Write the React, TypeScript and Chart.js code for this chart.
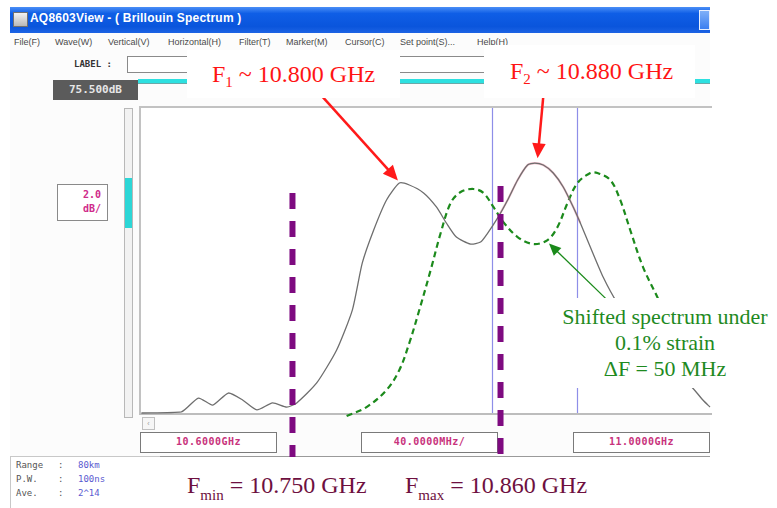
import React, { useEffect, useRef } from "react";
import { Chart, registerables } from "chart.js";

Chart.register(...registerables);

// Measured Brillouin spectrum (frequency in GHz, level in dB)
const FREQ_GHZ = [
  10.601, 10.629, 10.641, 10.651, 10.662, 10.672, 10.682, 10.693, 10.703, 10.71,
  10.724, 10.738, 10.749, 10.756, 10.764, 10.773, 10.782, 10.789, 10.799, 10.808,
  10.815, 10.822, 10.832, 10.839, 10.844, 10.851, 10.858, 10.865, 10.872, 10.877,
  10.883, 10.89, 10.897, 10.904, 10.909, 10.916, 10.925, 10.935, 10.951, 10.968,
  10.986, 10.995, 11.0,
];
const LEVEL_DB = [
  55.5, 55.57, 56.48, 56.02, 56.81, 56.35, 55.7, 56.16, 55.89, 56.16,
  57.47, 59.63, 62.25, 65.34, 67.5, 69.47, 70.58, 70.45, 69.93, 69.01,
  67.96, 67.04, 66.58, 66.71, 67.3, 68.29, 69.47, 70.78, 71.76, 71.89,
  71.76, 71.24, 70.32, 69.01, 67.96, 66.39, 64.42, 62.71, 60.61, 58.84,
  57.34, 56.35, 55.89,
];

// Shifted spectrum under 0.1% strain
const SHIFT_FREQ_GHZ = [
  10.745, 10.759, 10.773, 10.782, 10.789, 10.796, 10.804, 10.811, 10.818, 10.825,
  10.834, 10.841, 10.848, 10.855, 10.865, 10.876, 10.886, 10.893, 10.9, 10.907,
  10.916, 10.921, 10.93, 10.937, 10.944, 10.953, 10.963, 10.972, 10.982,
];
const SHIFT_LEVEL_DB = [
  55.3, 55.89, 57.01, 58.32, 60.09, 62.25, 64.88, 67.3, 69.27, 69.99,
  70.19, 69.93, 69.01, 68.02, 67.04, 66.58, 66.84, 67.7, 69.27, 70.58,
  71.24, 71.24, 70.78, 69.47, 67.5, 65.07, 63.11, 61.27, 59.3,
];

// Marker trace highlight around F2
const MARK_FREQ_GHZ = [10.851, 10.858, 10.865, 10.872, 10.877, 10.883, 10.89, 10.897, 10.904, 10.909];
const MARK_LEVEL_DB = [68.29, 69.47, 70.78, 71.76, 71.89, 71.76, 71.24, 70.32, 69.01, 67.96];

const X_MIN = 10.6;
const X_MAX = 11.0;
const Y_MIN = 55.5;
const Y_MAX = 75.5;

const CURSOR_FREQ_GHZ = [10.847, 10.907];
const LIMIT_FREQ_GHZ = [10.707, 10.853];
const LIMIT_TOP_DB = [69.93, 70.39];
const LIMIT_BOTTOM_DB = 52.61;

// arrows: [fromF, fromDb, toF, toDb]
const ARROW_F1 = [10.7275, 76.3, 10.781, 70.75];
const ARROW_F2 = [10.883, 76.25, 10.879, 72.2];
const ARROW_SHIFT = [10.928, 62.9, 10.887, 66.62];

const TITLE = "AQ8603View - ( Brillouin Spectrum )";
const MENU_ITEMS = ["File(F)", "Wave(W)", "Vertical(V)", "Horizontal(H)", "Filter(T)", "Marker(M)", "Cursor(C)", "Set point(S)...", "Help(H)"];
const MENU_X = [14, 55, 108, 168, 239, 286, 345, 400, 477];
const AXIS_LABELS = ["10.6000GHz", "40.0000MHz/", "11.0000GHz"];
const AXIS_LABEL_X = [140, 361, 573];
const INFO_LABELS = ["Range", "P.W.", "Ave."];
const INFO_VALUES = ["80km", "100ns", "2^14"];

function drawArrow(ctx: CanvasRenderingContext2D, x1: number, y1: number, x2: number, y2: number, color: string, width: number, head: number) {
  const a = Math.atan2(y2 - y1, x2 - x1);
  ctx.save();
  ctx.strokeStyle = color;
  ctx.fillStyle = color;
  ctx.lineWidth = width;
  ctx.setLineDash([]);
  ctx.beginPath();
  ctx.moveTo(x1, y1);
  ctx.lineTo(x2 - Math.cos(a) * head * 0.7, y2 - Math.sin(a) * head * 0.7);
  ctx.stroke();
  const bx = x2 - Math.cos(a) * head;
  const by = y2 - Math.sin(a) * head;
  const w = head * 0.45;
  ctx.beginPath();
  ctx.moveTo(x2, y2);
  ctx.lineTo(bx + Math.sin(a) * w, by - Math.cos(a) * w);
  ctx.lineTo(bx - Math.sin(a) * w, by + Math.cos(a) * w);
  ctx.closePath();
  ctx.fill();
  ctx.restore();
}

const overlayPlugin = {
  id: "overlay",
  beforeDatasetsDraw(chart: any) {
    const { ctx, chartArea } = chart;
    const x = chart.scales.x;
    ctx.save();
    ctx.strokeStyle = "#8e8ee8";
    ctx.lineWidth = 1.2;
    CURSOR_FREQ_GHZ.forEach((f) => {
      const px = Math.round(x.getPixelForValue(f)) + 0.5;
      ctx.beginPath();
      ctx.moveTo(px, chartArea.top);
      ctx.lineTo(px, chartArea.bottom);
      ctx.stroke();
    });
    ctx.restore();
  },
  afterDatasetsDraw(chart: any) {
    const { ctx } = chart;
    const x = chart.scales.x;
    const y = chart.scales.y;
    ctx.save();
    ctx.strokeStyle = "#7e0a80";
    ctx.lineWidth = 6;
    ctx.setLineDash([16, 12]);
    LIMIT_FREQ_GHZ.forEach((f, i) => {
      const px = x.getPixelForValue(f);
      ctx.beginPath();
      ctx.moveTo(px, y.getPixelForValue(LIMIT_TOP_DB[i]));
      ctx.lineTo(px, y.getPixelForValue(LIMIT_BOTTOM_DB));
      ctx.stroke();
    });
    ctx.restore();
    const arr = (a: number[], color: string, w: number, h: number) =>
      drawArrow(ctx, x.getPixelForValue(a[0]), y.getPixelForValue(a[1]), x.getPixelForValue(a[2]), y.getPixelForValue(a[3]), color, w, h);
    arr(ARROW_F1, "#ff1a1a", 2.5, 15);
    arr(ARROW_F2, "#ff1a1a", 2.5, 15);
    arr(ARROW_SHIFT, "#1a8a1a", 1.3, 12);
  },
};

const mono = "'DejaVu Sans Mono', 'Liberation Mono', monospace";
const serif = "'Liberation Serif', 'DejaVu Serif', serif";

export default function App() {
  const ref = useRef<HTMLCanvasElement | null>(null);

  useEffect(() => {
    if (!ref.current) return;
    const toPts = (xs: number[], ys: number[]) => xs.map((v, i) => ({ x: v, y: ys[i] }));
    const chart = new Chart(ref.current, {
      type: "line",
      data: {
        datasets: [
          {
            label: "Spectrum",
            data: toPts(FREQ_GHZ, LEVEL_DB),
            borderColor: "#6e6e6e",
            borderWidth: 1.3,
            pointRadius: 0,
            tension: 0.2,
            fill: false,
            clip: false as any,
          },
          {
            label: "Marker",
            data: toPts(MARK_FREQ_GHZ, MARK_LEVEL_DB),
            borderColor: "rgba(225,110,140,0.45)",
            borderWidth: 2.2,
            pointRadius: 0,
            tension: 0.2,
            fill: false,
          },
          {
            label: "Shifted",
            data: toPts(SHIFT_FREQ_GHZ, SHIFT_LEVEL_DB),
            borderColor: "#1c8a1c",
            borderWidth: 2.2,
            borderDash: [6, 4],
            pointRadius: 0,
            tension: 0.35,
            fill: false,
            clip: false as any,
          },
        ],
      },
      options: {
        animation: false,
        responsive: false,
        maintainAspectRatio: false,
        devicePixelRatio: 1,
        layout: { padding: { left: 140, top: 108, right: 67, bottom: 95 } },
        plugins: { legend: { display: false }, tooltip: { enabled: false } },
        scales: {
          x: { type: "linear", min: X_MIN, max: X_MAX, display: false },
          y: { type: "linear", min: Y_MIN, max: Y_MAX, display: false },
        },
      },
      plugins: [overlayPlugin],
    });
    return () => chart.destroy();
  }, []);

  const abs = (s: React.CSSProperties): React.CSSProperties => ({ position: "absolute", ...s });

  return (
    <div style={{ position: "fixed", left: 0, top: 0, width: 777, height: 508, background: "#ffffff", overflow: "hidden", fontFamily: "'Liberation Sans', sans-serif" }}>
      {/* screen background */}
      <div style={abs({ left: 10, top: 7, width: 700, height: 449, background: "#fcfcfc", borderBottom: "1px solid #9a9a9a" })} />
      {/* title bar */}
      <div style={abs({ left: 10, top: 7, width: 700, height: 26, background: "linear-gradient(#4a8ff6 0%, #0f5ee6 25%, #0a55dc 75%, #1c63e4 100%)" })} />
      <div style={abs({ left: 13, top: 12, width: 13, height: 13, background: "linear-gradient(#f2f2f2, #b8b8b8)", border: "1px solid #707070" })} />
      <div style={abs({ left: 30, top: 11, color: "#ffffff", fontWeight: "bold", fontSize: 12, whiteSpace: "nowrap", letterSpacing: 0.2 })}>{TITLE}</div>
      <div style={abs({ left: 699, top: 10, width: 11, height: 20, background: "linear-gradient(#7fb0f8, #3c7ff0)", border: "1px solid #e8f0ff", boxSizing: "border-box" })} />
      {/* menu */}
      {MENU_ITEMS.map((m, i) => (
        <div key={m} style={abs({ left: MENU_X[i], top: 37, fontSize: 9, color: "#4a4a4a", whiteSpace: "nowrap" })}>{m}</div>
      ))}
      <div style={abs({ left: 398, top: 56, width: 150, height: 1, background: "#b0b0b0" })} />
      {/* label row */}
      <div style={abs({ left: 74, top: 59, fontSize: 9, fontWeight: "bold", fontFamily: mono, color: "#333" })}>LABEL :</div>
      <div style={abs({ left: 127, top: 56, width: 360, height: 17, border: "1px solid #8a8a8a", background: "#ffffff", boxSizing: "border-box" })} />
      <div style={abs({ left: 138, top: 79, width: 572, height: 4, background: "#2de0e0", borderBottom: "1px solid #6aa8a8" })} />
      <div style={abs({ left: 53, top: 80, width: 85, height: 20, background: "#5b5b5b", color: "#e6e6e6", fontFamily: mono, fontWeight: "bold", fontSize: 11, lineHeight: "20px", textAlign: "center" })}>75.500dB</div>
      {/* vertical scrollbar */}
      <div style={abs({ left: 124, top: 108, width: 9, height: 310, border: "1px solid #b8b8b8", background: "#f2f2f2", boxSizing: "border-box" })} />
      <div style={abs({ left: 125, top: 178, width: 7, height: 50, background: "#2cd6d6" })} />
      {/* dB/div box */}
      <div style={abs({ left: 57, top: 184, width: 51, height: 37, border: "1.5px solid #8a8a8a", background: "#ffffff", boxSizing: "border-box", color: "#cf2a8a", fontFamily: mono, fontWeight: "bold", fontSize: 10, textAlign: "right", paddingRight: 6, paddingTop: 3, lineHeight: "14px" })}>
        <div>2.0</div>
        <div>dB/</div>
      </div>
      {/* plot frame */}
      <div style={abs({ left: 139, top: 106, width: 573, height: 309, background: "#ffffff", borderTop: "2px solid #c2c2c2", borderLeft: "2px solid #c2c2c2", borderBottom: "2px solid #bdbdbd", boxSizing: "border-box" })} />
      {/* horizontal scrollbar arrow */}
      <div style={abs({ left: 142, top: 417, width: 13, height: 13, border: "1px solid #c0c0c0", background: "#f6f6f6", boxSizing: "border-box", fontSize: 7, color: "#999", textAlign: "center", lineHeight: "11px" })}>‹</div>
      {/* axis label boxes */}
      {AXIS_LABELS.map((t, i) => (
        <div key={t} style={abs({ left: AXIS_LABEL_X[i], top: 432, width: 137, height: 21, border: "1.5px solid #7a7a7a", background: "#ffffff", boxSizing: "border-box", color: "#c8327c", fontFamily: mono, fontWeight: "bold", fontSize: 10, lineHeight: "18px", textAlign: "center", letterSpacing: 0.5 })}>{t}</div>
      ))}
      {/* info box */}
      <div style={abs({ left: 10, top: 456, width: 150, height: 52, background: "#ffffff", borderLeft: "1px solid #c8c8c8", borderTop: "1px solid #c8c8c8", boxSizing: "border-box" })} />
      {INFO_LABELS.map((l, i) => (
        <React.Fragment key={l}>
          <div style={abs({ left: 16, top: 460 + i * 14, fontFamily: mono, fontSize: 9, color: "#555" })}>{l}</div>
          <div style={abs({ left: 58, top: 460 + i * 14, fontFamily: mono, fontSize: 9, color: "#555" })}>:</div>
          <div style={abs({ left: 78, top: 460 + i * 14, fontFamily: mono, fontSize: 9, color: "#5a5ad0" })}>{INFO_VALUES[i]}</div>
        </React.Fragment>
      ))}
      {/* chart canvas */}
      <canvas ref={ref} width={777} height={508} style={abs({ left: 0, top: 0, width: 777, height: 508, zIndex: 1 })} />
      {/* annotation boxes */}
      <div style={abs({ left: 187, top: 50, width: 213, height: 48, background: "#ffffff", zIndex: 2 })}>
        <div style={abs({ left: 25, top: 10, fontFamily: serif, fontSize: 24, color: "#ff1414", whiteSpace: "nowrap", lineHeight: "28px" })}>
          F<sub style={{ fontSize: 15, verticalAlign: -5 }}>1</sub> ~ 10.800 GHz
        </div>
      </div>
      <div style={abs({ left: 484, top: 45, width: 211, height: 53, background: "#ffffff", zIndex: 2 })}>
        <div style={abs({ left: 26, top: 12, fontFamily: serif, fontSize: 24, color: "#ff1414", whiteSpace: "nowrap", lineHeight: "28px" })}>
          F<sub style={{ fontSize: 15, verticalAlign: -5 }}>2</sub> ~ 10.880 GHz
        </div>
      </div>
      <div style={abs({ left: 553, top: 298, width: 224, height: 90, background: "#ffffff", zIndex: 2, fontFamily: serif, fontSize: 22, color: "#1f8a1f", textAlign: "center", lineHeight: "26px", paddingTop: 6, boxSizing: "border-box" })}>
        <div style={{ whiteSpace: "nowrap" }}>Shifted spectrum under</div>
        <div>0.1% strain</div>
        <div>ΔF = 50 MHz</div>
      </div>
      <div style={abs({ left: 160, top: 457, width: 452, height: 51, background: "#ffffff", zIndex: 2 })}>
        <div style={abs({ left: 27, top: 14, fontFamily: serif, fontSize: 24, color: "#6e1040", whiteSpace: "nowrap", lineHeight: "28px" })}>
          F<sub style={{ fontSize: 15, verticalAlign: -7 }}>min</sub> = 10.750 GHz
        </div>
        <div style={abs({ left: 245, top: 14, fontFamily: serif, fontSize: 24, color: "#6e1040", whiteSpace: "nowrap", lineHeight: "28px" })}>
          F<sub style={{ fontSize: 15, verticalAlign: -7 }}>max</sub> = 10.860 GHz
        </div>
      </div>
    </div>
  );
}
